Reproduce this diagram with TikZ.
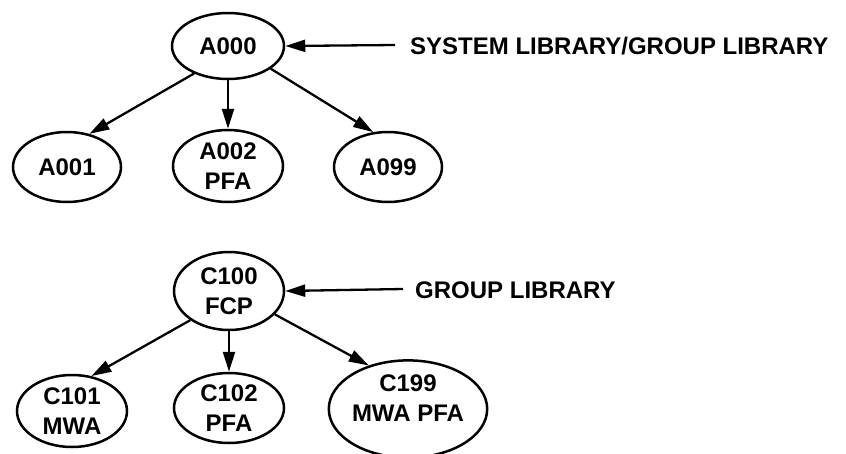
\documentclass[tikz,border=0pt]{standalone}
\usepackage{fontspec}
\setmainfont{Liberation Sans}
\usetikzlibrary{arrows.meta,shapes.geometric}
\begin{document}
\begin{tikzpicture}[x=1pt,y=-1pt,
  lib/.style={ellipse,draw,line width=2.5pt,inner sep=0pt,align=center,
    font=\bfseries\fontsize{24}{30}\selectfont},
  arr/.style={line width=2.3pt,-{Triangle[length=20pt,width=12pt]}},
  lbl/.style={anchor=base west,inner sep=0pt,font=\bfseries\fontsize{24}{30}\selectfont}]
\useasboundingbox (0,0) rectangle (846,453);
% top tree
\node[lib,minimum width=112pt,minimum height=66pt] (a000) at (228,46) {A000};
\node[lib,minimum width=108pt,minimum height=70pt] (a001) at (67,167) {A001};
\node[lib,minimum width=110pt,minimum height=72pt] (a002) at (228,166) {A002\\PFA};
\node[lib,minimum width=108pt,minimum height=70pt] (a099) at (388,167) {A099};
\coordinate (s1) at (395,45);
\node[lbl] (t1) at (410,54) {SYSTEM LIBRARY/GROUP LIBRARY};
\draw[arr] (s1) -- (a000.east);
\draw[arr] (a000.219) -- (a001.56);
\draw[arr] (a000.south) -- (a002.north);
\draw[arr] (a000.332) -- (a099.113);
% bottom tree
\node[lib,minimum width=110pt,minimum height=78pt] (c100) at (229,291) {C100\\FCP};
\node[lib,minimum width=110pt,minimum height=72pt] (c101) at (72,411) {C101\\MWA};
\node[lib,minimum width=110pt,minimum height=70pt] (c102) at (229,408) {C102\\PFA};
\node[lib,minimum width=148pt,minimum height=90pt] (c199) at (408,409) {C199\\MWA PFA\\[-8pt]};
\coordinate (s2) at (403,289);
\node[lbl] (t2) at (415,298) {GROUP LIBRARY};
\draw[arr] (s2) -- (c100.east);
\draw[arr] (c100.217) -- (c101.61);
\draw[arr] (c100.south) -- (c102.north);
\draw[arr] (c100.333) -- (c199.132);
\end{tikzpicture}
\end{document}
